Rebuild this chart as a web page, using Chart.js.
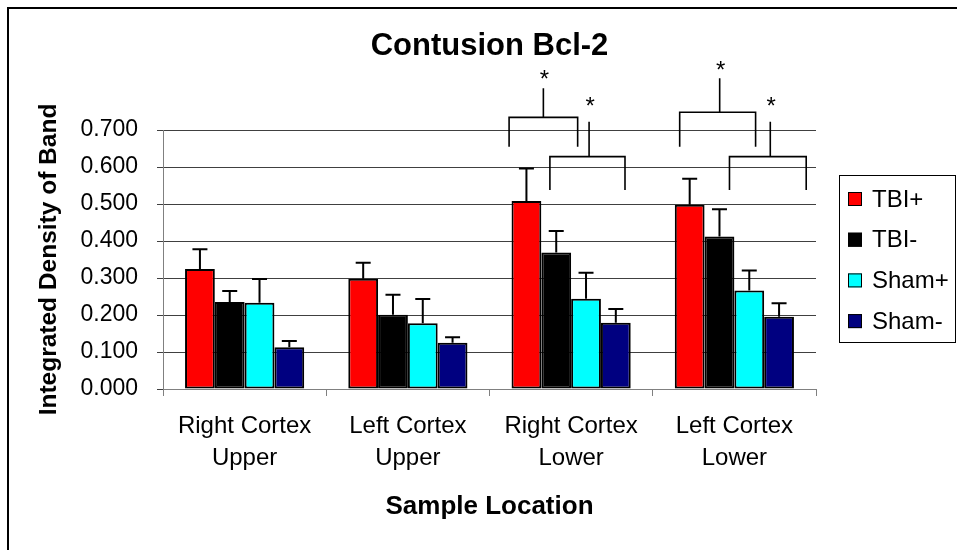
<!DOCTYPE html>
<html>
<head>
<meta charset="utf-8">
<script src="https://cdn.jsdelivr.net/npm/chart.js@4.4.0/dist/chart.umd.min.js"></script>
<style>
  html, body { margin: 0; padding: 0; background: #fff; }
  canvas { display: block; }
</style>
</head>
<body>
<canvas id="chart" width="957" height="550"></canvas>
<script>
const categories = [
  ["Right Cortex", "Upper"],
  ["Left Cortex", "Upper"],
  ["Right Cortex", "Lower"],
  ["Left Cortex", "Lower"]
];
const seriesNames = ["TBI+", "TBI-", "Sham+", "Sham-"];
const seriesColors = ["#ff0000", "#000000", "#00ffff", "#000080"];

// mean values per series
const tbiPlus = [0.324, 0.298, 0.508, 0.498];
const tbiMinus = [0.235, 0.201, 0.369, 0.412];
const shamPlus = [0.233, 0.178, 0.244, 0.266];
const shamMinus = [0.113, 0.125, 0.179, 0.195];

// upper error (SEM) per series
const tbiPlusErr = [0.054, 0.043, 0.088, 0.070];
const tbiMinusErr = [0.030, 0.054, 0.058, 0.074];
const shamPlusErr = [0.064, 0.065, 0.070, 0.054];
const shamMinusErr = [0.017, 0.015, 0.037, 0.037];

const yTicks = [0, 0.1, 0.2, 0.3, 0.4, 0.5, 0.6, 0.7];

// significance brackets: category index, offsets in category widths, heights in data units
const brackets = [
  { cat: 2, x0: -0.38, x1: 0.04, xs: -0.17, leg: 0.655, bar: 0.734, top: 0.813, star: 0.849 },
  { cat: 2, x0: -0.13, x1: 0.33, xs: 0.11, leg: 0.538, bar: 0.628, top: 0.722, star: 0.778 },
  { cat: 3, x0: -0.335, x1: 0.13, xs: -0.09, leg: 0.655, bar: 0.748, top: 0.840, star: 0.876 },
  { cat: 3, x0: -0.03, x1: 0.44, xs: 0.22, leg: 0.538, bar: 0.628, top: 0.722, star: 0.778 }
];

const values = [tbiPlus, tbiMinus, shamPlus, shamMinus];
const errors = [tbiPlusErr, tbiMinusErr, shamPlusErr, shamMinusErr];
const FONT = "'Liberation Sans', Arial, sans-serif";

const errorBars = {
  id: "errorBars",
  afterDatasetsDraw(chart) {
    const ctx = chart.ctx;
    const y = chart.scales.y;
    ctx.save();
    ctx.strokeStyle = "#000";
    ctx.lineWidth = 2;
    chart.data.datasets.forEach((ds, i) => {
      const meta = chart.getDatasetMeta(i);
      meta.data.forEach((bar, j) => {
        const top = y.getPixelForValue(ds.data[j] + errors[i][j]);
        ctx.beginPath();
        ctx.moveTo(bar.x, bar.y);
        ctx.lineTo(bar.x, top);
        ctx.moveTo(bar.x - 7.5, top);
        ctx.lineTo(bar.x + 7.5, top);
        ctx.stroke();
      });
    });
    ctx.restore();
  }
};

const extras = {
  id: "extras",
  afterDraw(chart) {
    const ctx = chart.ctx;
    const xs = chart.scales.x;
    const ys = chart.scales.y;
    const area = chart.chartArea;
    const catW = xs.width / categories.length;
    ctx.save();
    // brackets
    ctx.strokeStyle = "#000";
    ctx.lineWidth = 1.6;
    ctx.fillStyle = "#000";
    ctx.font = "24px " + FONT;
    ctx.textAlign = "center";
    ctx.textBaseline = "middle";
    brackets.forEach(b => {
      const c = xs.getPixelForValue(b.cat);
      const l = c + b.x0 * catW, r = c + b.x1 * catW, s = c + b.xs * catW;
      const yl = ys.getPixelForValue(b.leg), yb = ys.getPixelForValue(b.bar), yt = ys.getPixelForValue(b.top);
      ctx.beginPath();
      ctx.moveTo(l, yl); ctx.lineTo(l, yb); ctx.lineTo(r, yb); ctx.lineTo(r, yl);
      ctx.moveTo(s, yb); ctx.lineTo(s, yt);
      ctx.stroke();
      ctx.fillText("*", s + 1, ys.getPixelForValue(b.star) + 6);
    });

    // legend
    const lx = area.right + 23, ly = 175, lw = 116, lh = 167;
    ctx.fillStyle = "#fff";
    ctx.fillRect(lx, ly, lw, lh);
    ctx.strokeStyle = "#000";
    ctx.lineWidth = 1;
    ctx.strokeRect(lx + 0.5, ly + 0.5, lw, lh);
    ctx.font = "24px " + FONT;
    ctx.textAlign = "left";
    chart.data.datasets.forEach((ds, i) => {
      const cy = ly + 24 + i * 40.7;
      ctx.fillStyle = ds.backgroundColor;
      ctx.fillRect(lx + 9, cy - 7, 14, 14);
      ctx.strokeRect(lx + 9.5, cy - 6.5, 13, 13);
      ctx.fillStyle = "#000";
      ctx.fillText(ds.label, lx + 33, cy + 1);
    });

    // outer frame
    ctx.lineWidth = 2;
    ctx.strokeStyle = "#000";
    ctx.beginPath();
    ctx.moveTo(8, chart.height + 5);
    ctx.lineTo(8, 8);
    ctx.lineTo(chart.width + 5, 8);
    ctx.stroke();
    ctx.restore();
  }
};

new Chart(document.getElementById("chart"), {
  type: "bar",
  data: {
    labels: categories,
    datasets: seriesNames.map((name, i) => ({
      label: name,
      data: values[i],
      backgroundColor: seriesColors[i],
      borderColor: "#000",
      borderWidth: 2,
      borderSkipped: false,
      categoryPercentage: 0.73,
      barPercentage: 1.0
    }))
  },
  options: {
    responsive: false,
    animation: false,
    devicePixelRatio: 1,
    layout: { padding: { left: 0, right: 141, top: 0, bottom: 0 } },
    plugins: {
      legend: { display: false },
      tooltip: { enabled: false },
      title: {
        display: true,
        text: "Contusion Bcl-2",
        fullSize: false,
        color: "#000",
        font: { family: FONT, size: 31, weight: "bold" },
        padding: { top: 28, bottom: 64.8 }
      }
    },
    scales: {
      x: {
        afterFit: s => { s.height = 161; },
        grid: { drawOnChartArea: false, drawTicks: true, tickLength: 7, color: "#808080", offset: true },
        border: { display: true, color: "#808080", width: 1 },
        ticks: {
          color: "#000",
          maxRotation: 0,
          autoSkip: false,
          padding: 14,
          font: { family: FONT, size: 24, lineHeight: "32px" }
        },
        title: {
          display: true,
          text: "Sample Location",
          color: "#000",
          font: { family: FONT, size: 26, weight: "bold" },
          padding: { top: 0, bottom: 27.4 }
        }
      },
      y: {
        min: 0,
        max: 0.7,
        afterFit: s => { s.width = 163; },
        afterBuildTicks: s => { s.ticks = yTicks.map(v => ({ value: v })); },
        grid: { color: "#404040", lineWidth: 1, drawTicks: true, tickLength: 6 },
        border: { display: true, color: "#808080", width: 1 },
        ticks: {
          color: "#000",
          padding: 19,
          font: { family: FONT, size: 23 },
          callback: v => Number(v).toFixed(3)
        },
        title: {
          display: true,
          text: "Integrated Density of Band",
          color: "#000",
          font: { family: FONT, size: 24.5, weight: "bold" },
          padding: { top: 34.3, bottom: 0 }
        }
      }
    }
  },
  plugins: [errorBars, extras]
});
</script>
</body>
</html>
